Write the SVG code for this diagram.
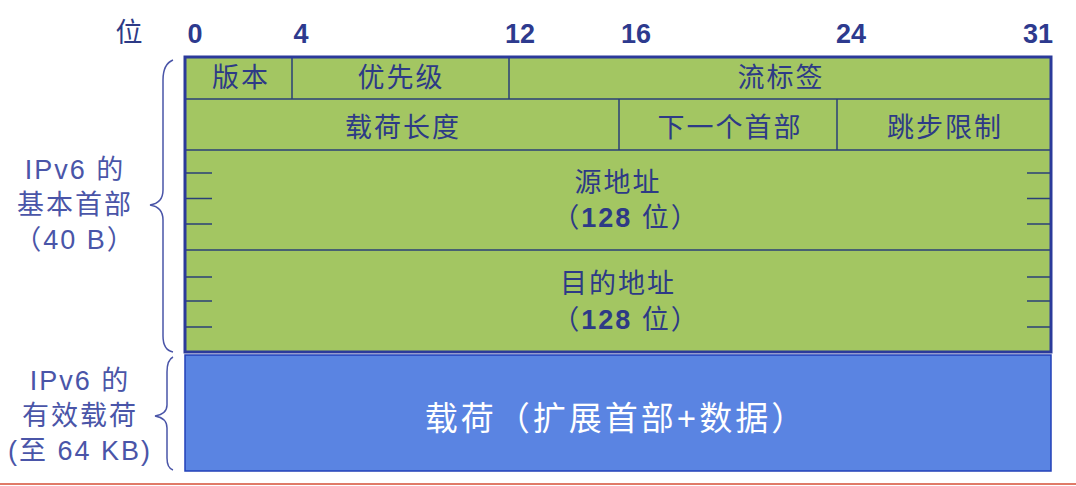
<svg xmlns="http://www.w3.org/2000/svg" width="1076" height="486" viewBox="0 0 1076 486">
<style>
.f{font-family:"Liberation Sans","Noto Sans CJK SC",sans-serif;fill:#2d3a86;font-size:27px;letter-spacing:2px;text-anchor:middle;dominant-baseline:central}
.bit{font-family:"Liberation Sans",sans-serif;font-weight:bold;font-size:27px;fill:#2d3a8e;text-anchor:middle}
.side{font-family:"Liberation Sans","Noto Sans CJK SC",sans-serif;fill:#4a55a8;font-size:27px;letter-spacing:2px;text-anchor:middle;dominant-baseline:central}
.ln{stroke:#2a3f78;stroke-width:1.5;fill:none}
.brace{stroke:#4a55a8;stroke-width:1.5;fill:none}
</style>
<rect width="1076" height="486" fill="#ffffff"/>
<g id="bits">
<text class="side" x="130" y="33" style="fill:#2d3a86">位</text>
<text class="bit" x="195" y="43">0</text>
<text class="bit" x="301" y="43">4</text>
<text class="bit" x="520" y="43">12</text>
<text class="bit" x="636" y="43">16</text>
<text class="bit" x="851" y="43">24</text>
<text class="bit" x="1038" y="43">31</text>
</g>
<g id="header">
<rect x="185" y="57" width="866" height="295" fill="#a3c662"/>
<line class="ln" x1="185" y1="99" x2="1051" y2="99"/>
<line class="ln" x1="185" y1="150" x2="1051" y2="150"/>
<line class="ln" x1="185" y1="250" x2="1051" y2="250"/>
<line class="ln" x1="292" y1="57" x2="292" y2="99"/>
<line class="ln" x1="509" y1="57" x2="509" y2="99"/>
<line class="ln" x1="619" y1="99" x2="619" y2="150"/>
<line class="ln" x1="837" y1="99" x2="837" y2="150"/>
<g class="ln">
<line x1="185" y1="173" x2="212" y2="173"/><line x1="185" y1="198.5" x2="212" y2="198.5"/><line x1="185" y1="224" x2="212" y2="224"/>
<line x1="185" y1="277" x2="212" y2="277"/><line x1="185" y1="301" x2="212" y2="301"/><line x1="185" y1="327" x2="212" y2="327"/>
<line x1="1027" y1="173" x2="1051" y2="173"/><line x1="1027" y1="198.5" x2="1051" y2="198.5"/><line x1="1027" y1="224" x2="1051" y2="224"/>
<line x1="1027" y1="277" x2="1051" y2="277"/><line x1="1027" y1="301" x2="1051" y2="301"/><line x1="1027" y1="327" x2="1051" y2="327"/>
</g>
<rect x="185" y="57" width="866" height="295" fill="none" stroke="#2b3a9a" stroke-width="3"/>
</g>
<g id="version"><text class="f" x="241" y="78">版本</text></g>
<g id="priority"><text class="f" x="401" y="78">优先级</text></g>
<g id="flowlabel"><text class="f" x="781" y="78">流标签</text></g>
<g id="payloadlen"><text class="f" x="403" y="128">载荷长度</text></g>
<g id="nextheader"><text class="f" x="730" y="128">下一个首部</text></g>
<g id="hoplimit"><text class="f" x="945" y="128">跳步限制</text></g>
<g id="src"><text class="f" x="618" y="183">源地址</text><text class="f" x="626" y="218">（<tspan font-weight="bold">128</tspan> 位）</text></g>
<g id="dst"><text class="f" x="618" y="284">目的地址</text><text class="f" x="626" y="320">（<tspan font-weight="bold">128</tspan> 位）</text></g>
<g id="payload">
<rect x="185" y="355" width="866" height="116" fill="#5a84e2" stroke="#2240b8" stroke-width="1.5"/>
<text class="f" x="616" y="418" style="fill:#ffffff;font-size:33px;letter-spacing:3px">载荷（扩展首部+数据）</text>
</g>
<g id="labels">
<path class="brace" d="M173,60 Q163,64 163,80 L163,190 Q163,203 150,205 Q163,207 163,220 L163,336 Q163,350 173,352"/>
<path class="brace" d="M173,357 Q167,360 167,372 L167,405 Q167,414 155,416 Q167,418 167,428 L167,458 Q167,468 173,470"/>
<text class="side" x="75" y="170">IPv6 的</text>
<text class="side" x="75" y="205">基本首部</text>
<text class="side" x="75" y="240">（40 B）</text>
<text class="side" x="80" y="381">IPv6 的</text>
<text class="side" x="80" y="416">有效载荷</text>
<text class="side" x="80" y="451">(至 64 KB)</text>
</g>
<line x1="0" y1="484" x2="1076" y2="484" stroke="#e07a68" stroke-width="2"/>
</svg>
